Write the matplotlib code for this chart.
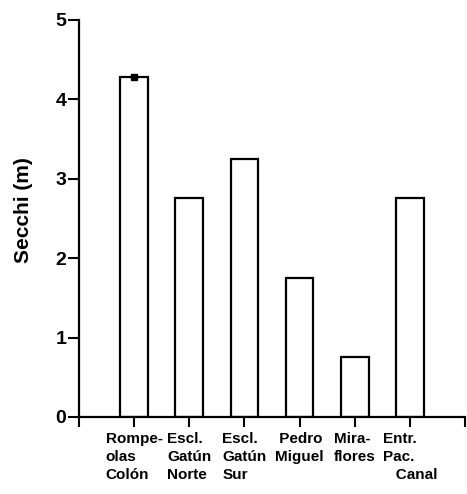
import matplotlib
matplotlib.use("Agg")
import matplotlib.pyplot as plt

# Secchi depth per station
stations = ["Rompe-\nolas\nColón", "Escl.\nGatún\nNorte", "Escl.\nGatún\nSur",
            " Pedro\nMiguel", "Mira-\nflores", "Entr.\nPac.\n   Canal"]
secchi = [4.28, 2.75, 3.25, 1.75, 0.75, 2.76]
secchi_err = [0.03, 0, 0, 0, 0, 0]

plt.rcParams["font.family"] = ["Liberation Sans", "DejaVu Sans"]
plt.rcParams["font.weight"] = "bold"

fig = plt.figure(figsize=(4.67, 4.94), dpi=100)
ax = fig.add_axes([0.169, 0.156, 0.827, 0.804])
x = list(range(len(stations)))
ax.bar(x, secchi, width=0.5, color="white", edgecolor="black", linewidth=1.6, zorder=2)
ax.errorbar(x[0], secchi[0], yerr=secchi_err[0], fmt="s", color="black", ms=4,
            capsize=0, elinewidth=1.5, zorder=3)

ax.set_xlim(-1, 6)
ax.set_ylim(0, 5)
ax.set_xticks(range(-1, 7))
labs = ax.set_xticklabels([""] + stations + [""], fontsize=11, fontweight="bold", linespacing=1.35)
for t in labs:
    t.set_multialignment("left")
ax.set_yticks(range(0, 6))
ax.set_yticklabels([str(v) for v in range(0, 6)], fontsize=14, fontweight="bold")
ax.tick_params(axis="x", direction="out", length=7, width=1.5, pad=4)
ax.tick_params(axis="y", direction="out", length=8, width=1.5, pad=1)
ax.set_ylabel("Secchi (m)", fontsize=15, fontweight="bold")
ax.yaxis.set_label_coords(-0.12, 0.52)
for s in ["top", "right"]:
    ax.spines[s].set_visible(False)
for s in ["left", "bottom"]:
    ax.spines[s].set_linewidth(1.6)

fig.savefig("out.png", dpi=100)
